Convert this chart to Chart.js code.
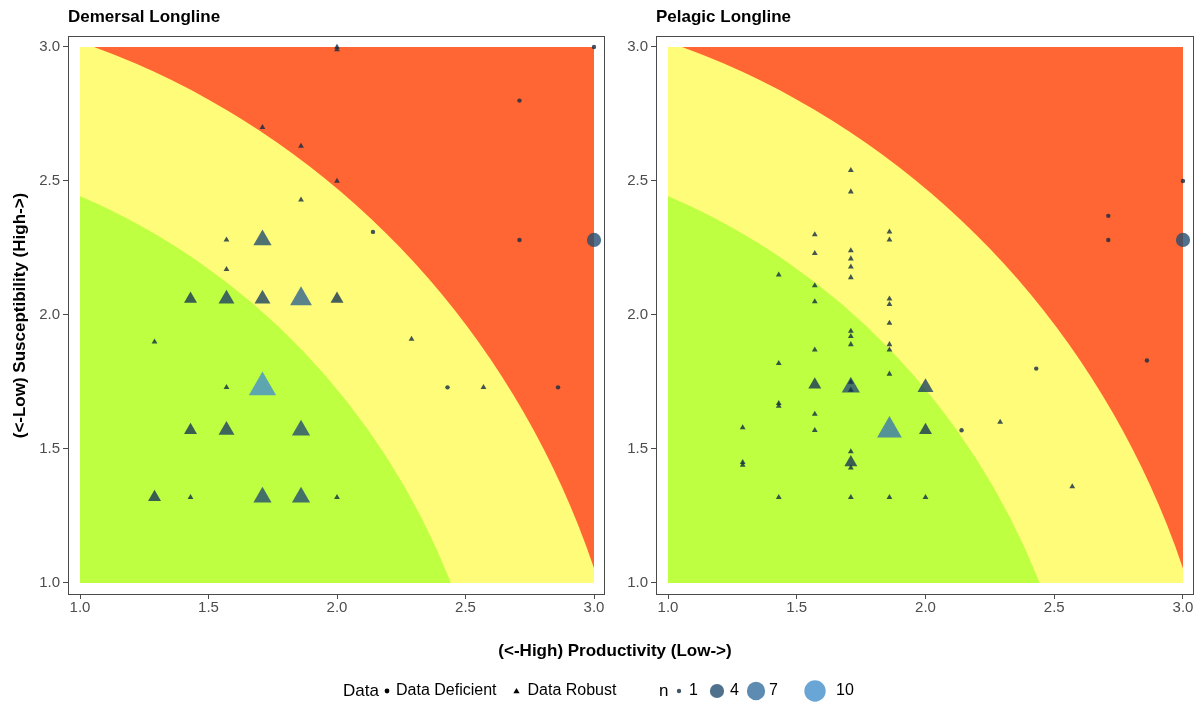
<!DOCTYPE html>
<html>
<head>
<meta charset="utf-8">
<script src="https://cdn.jsdelivr.net/npm/chart.js@4.4.1/dist/chart.umd.min.js"></script>
<style>
  html, body { margin: 0; padding: 0; background: #ffffff; }
  #wrap { position: relative; width: 1202px; height: 706px; }
  #wrap canvas { position: absolute; left: 0; top: 0; }
</style>
</head>
<body>
<div id="wrap">
  <canvas id="demersal" width="1202" height="706"></canvas>
  <canvas id="pelagic" width="1202" height="706"></canvas>
</div>
<script>
// Axis ticks shared by both panels
const tickValues = [1.0, 1.5, 2.0, 2.5, 3.0];

// Vulnerability thresholds: distance from the origin in (P, S) space
const lowMediumBreak = 2.64;
const mediumHighBreak = 3.18;

// Demersal longline: data-robust species
const demersalRobustP = [2.00, 2.00, 1.71, 1.86, 2.00, 1.86, 1.57, 1.71, 1.57, 1.43, 1.57, 1.71, 1.86, 2.00, 1.29, 2.29, 1.57, 1.71, 2.57, 1.43, 1.57, 1.86, 1.29, 1.43, 1.71, 1.86, 2.00];
const demersalRobustS = [3.00, 2.99, 2.70, 2.63, 2.50, 2.43, 2.28, 2.28, 2.17, 2.06, 2.06, 2.06, 2.06, 2.06, 1.90, 1.91, 1.73, 1.73, 1.73, 1.57, 1.57, 1.57, 1.32, 1.32, 1.32, 1.32, 1.32];
const demersalRobustN = [1, 1, 1, 1, 1, 1, 1, 4, 1, 2, 3, 3, 6, 2, 1, 1, 1, 10, 1, 2, 3, 4, 2, 1, 4, 4, 1];

// Demersal longline: data-deficient species
const demersalDeficientP = [3.00, 2.71, 2.14, 2.71, 3.00, 2.43, 2.86];
const demersalDeficientS = [3.00, 2.80, 2.31, 2.28, 2.28, 1.73, 1.73];
const demersalDeficientN = [1, 1, 1, 1, 4, 1, 1];

// Pelagic longline: data-robust species
const pelagicRobustP = [1.71, 1.71, 1.57, 1.86, 1.86, 1.57, 1.71, 1.71, 1.71, 1.71, 1.43, 1.57, 1.57, 1.86, 1.86, 1.86, 1.71, 1.71, 1.71, 1.86, 1.86, 1.57, 1.43, 1.86, 1.57, 1.71, 1.71, 1.71, 2.00, 1.43, 1.43, 1.57, 1.29, 1.57, 1.86, 2.00, 2.29, 1.71, 1.71, 1.71, 1.29, 1.29, 2.57, 1.43, 1.71, 1.86, 2.00];
const pelagicRobustS = [2.54, 2.46, 2.30, 2.31, 2.28, 2.23, 2.24, 2.21, 2.18, 2.14, 2.15, 2.11, 2.05, 2.06, 2.04, 1.97, 1.94, 1.92, 1.89, 1.89, 1.87, 1.87, 1.82, 1.78, 1.74, 1.73, 1.75, 1.72, 1.73, 1.67, 1.66, 1.63, 1.58, 1.57, 1.57, 1.57, 1.60, 1.45, 1.49, 1.43, 1.45, 1.44, 1.36, 1.32, 1.32, 1.32, 1.32];
const pelagicRobustN = [1, 1, 1, 1, 1, 1, 1, 1, 1, 1, 1, 1, 1, 1, 1, 1, 1, 1, 1, 1, 1, 1, 1, 1, 2, 4, 1, 1, 3, 1, 1, 1, 1, 1, 8, 2, 1, 2, 1, 1, 1, 1, 1, 1, 1, 1, 1];

// Pelagic longline: data-deficient species
const pelagicDeficientP = [3.00, 2.71, 2.71, 3.00, 2.86, 2.43, 2.14];
const pelagicDeficientS = [2.50, 2.37, 2.28, 2.28, 1.83, 1.80, 1.57];
const pelagicDeficientN = [1, 1, 1, 4, 1, 1, 1];

// Legend breaks for the count scale
const nBreaks = [1, 4, 7, 10];
const dataLabels = ['Data Deficient', 'Data Robust'];

// ---- styling ----
const FONT = "'Liberation Sans', Arial, Helvetica, sans-serif";
const ZONE_HIGH = '#FF6633';
const ZONE_MEDIUM = '#FFFC7A';
const ZONE_LOW = '#BEFF41';
const LOW_COL = [19, 43, 67];     // #132B43
const HIGH_COL = [86, 177, 247];  // #56B1F7
const POINT_ALPHA = 0.8;
const SIZE_MIN = 1, SIZE_MAX = 10;     // limits of the size scale
const COLOUR_MIN = 1, COLOUR_MAX = 13; // limits of the colour scale

function sizeFor(n) {
  const t = Math.max(0, Math.min(1, (n - SIZE_MIN) / (SIZE_MAX - SIZE_MIN)));
  return 1 + 5 * Math.sqrt(t);
}
function radiusFor(n, style) {
  const s = sizeFor(n);
  if (style === 'triangle') return (4.3 * s + 1.5) / Math.sqrt(3);
  return 1.7 * s + 0.5;
}
function colourFor(n, alpha) {
  const t = Math.max(0, Math.min(1, (n - COLOUR_MIN) / (COLOUR_MAX - COLOUR_MIN)));
  const c = LOW_COL.map((v, i) => Math.round(v + (HIGH_COL[i] - v) * t));
  return `rgba(${c[0]},${c[1]},${c[2]},${alpha})`;
}

function toPoints(P, S, N) {
  return P.map((p, i) => ({ x: p, y: S[i], n: N[i] }));
}

function makeDataset(label, P, S, N, style) {
  return {
    label: label,
    data: toPoints(P, S, N),
    pointStyle: style,
    pointRadius: ctx => radiusFor(ctx.raw ? ctx.raw.n : 1, style),
    pointHoverRadius: ctx => radiusFor(ctx.raw ? ctx.raw.n : 1, style),
    backgroundColor: ctx => colourFor(ctx.raw ? ctx.raw.n : 1, POINT_ALPHA),
    borderWidth: 0,
    showLine: false
  };
}

// Coloured risk zones, built from the panel's own scales
const zonePlugin = {
  id: 'riskZones',
  beforeDatasetsDraw(chart) {
    const { ctx, scales: { x, y } } = chart;
    const x0 = x.getPixelForValue(1), x1 = x.getPixelForValue(3);
    const yb = y.getPixelForValue(1), yt = y.getPixelForValue(3);
    const cx = x.getPixelForValue(0), cy = y.getPixelForValue(0);
    ctx.save();
    ctx.beginPath();
    ctx.rect(x0, yt, x1 - x0, yb - yt);
    ctx.clip();
    ctx.fillStyle = ZONE_HIGH;
    ctx.fillRect(x0, yt, x1 - x0, yb - yt);
    [[mediumHighBreak, ZONE_MEDIUM], [lowMediumBreak, ZONE_LOW]].forEach(([r, col]) => {
      ctx.beginPath();
      ctx.ellipse(cx, cy, x.getPixelForValue(r) - cx, cy - y.getPixelForValue(r), 0, 0, Math.PI * 2);
      ctx.fillStyle = col;
      ctx.fill();
    });
    ctx.restore();
  },
  afterDraw(chart, args, opts) {
    const { ctx, chartArea: a } = chart;
    ctx.save();
    // panel border
    ctx.strokeStyle = '#4a4a4a';
    ctx.lineWidth = 1;
    ctx.strokeRect(Math.round(a.left) + 0.5, Math.round(a.top) + 0.5,
                   Math.round(a.right - a.left) - 1, Math.round(a.bottom - a.top) - 1);
    // panel title
    ctx.fillStyle = '#000';
    ctx.font = `bold 17px ${FONT}`;
    ctx.textBaseline = 'alphabetic';
    ctx.textAlign = 'left';
    ctx.fillText(opts.title, a.left, 22);
    ctx.restore();
  }
};

function drawTriangle(ctx, x, y, r) {
  ctx.beginPath();
  for (let k = 0; k < 3; k++) {
    const ang = k * 2 * Math.PI / 3;
    const px = x + Math.sin(ang) * r, py = y - Math.cos(ang) * r;
    if (k === 0) ctx.moveTo(px, py); else ctx.lineTo(px, py);
  }
  ctx.closePath();
  ctx.fill();
}

// Shared x-axis title and the bottom legend
const sharedPlugin = {
  id: 'sharedText',
  afterDraw(chart) {
    const { ctx } = chart;
    ctx.save();
    ctx.fillStyle = '#000';
    ctx.textBaseline = 'middle';
    ctx.textAlign = 'center';
    ctx.font = `bold 17px ${FONT}`;
    ctx.fillText('(<-High) Productivity (Low->)', 615, 651);

    const ly = 691;
    ctx.textAlign = 'left';
    ctx.font = `17px ${FONT}`;
    ctx.fillText('Data', 343, ly);
    ctx.font = `16px ${FONT}`;
    // shape keys
    ctx.fillStyle = '#000';
    ctx.beginPath(); ctx.arc(387, ly, 2.4, 0, Math.PI * 2); ctx.fill();
    ctx.fillText(dataLabels[0], 396, ly);
    const wDef = ctx.measureText(dataLabels[0]).width;
    drawTriangle(ctx, 396 + wDef + 20, ly + 0.5, 3.6);
    ctx.fillText(dataLabels[1], 396 + wDef + 31, ly);

    // count keys
    ctx.font = `17px ${FONT}`;
    ctx.fillText('n', 659, ly);
    const keyX = [679, 717, 756, 815];
    const labelX = [689, 730, 769, 836];
    ctx.font = `16px ${FONT}`;
    nBreaks.forEach((n, i) => {
      const r = radiusFor(n, 'circle');
      ctx.fillStyle = colourFor(n, POINT_ALPHA);
      ctx.beginPath(); ctx.arc(keyX[i], ly, r, 0, Math.PI * 2); ctx.fill();
      ctx.fillStyle = '#000';
      ctx.fillText(String(n), labelX[i], ly);
    });
    ctx.restore();
  }
};

function makePanel(canvasId, title, robust, deficient, pad, yAxisWidth, yTitle, extraPlugins) {
  const scaleCommon = {
    type: 'linear',
    afterBuildTicks: s => { s.ticks = tickValues.map(v => ({ value: v })); },
    ticks: {
      callback: v => Number(v).toFixed(1),
      color: '#4D4D4D',
      font: { family: FONT, size: 15 },
      autoSkip: false,
      maxRotation: 0
    },
    grid: { drawOnChartArea: false, drawTicks: true, tickLength: 5, color: '#4a4a4a', lineWidth: 1 },
    border: { display: false }
  };
  return new Chart(document.getElementById(canvasId), {
    type: 'scatter',
    data: {
      datasets: [
        makeDataset(dataLabels[0], deficient.P, deficient.S, deficient.N, 'circle'),
        makeDataset(dataLabels[1], robust.P, robust.S, robust.N, 'triangle')
      ]
    },
    options: {
      responsive: false,
      animation: false,
      events: [],
      layout: { padding: pad, autoPadding: false },
      plugins: {
        legend: { display: false },
        tooltip: { enabled: false },
        riskZones: { title: title }
      },
      scales: {
        x: Object.assign({}, scaleCommon, {
          min: 0.9533, max: 3.0428,
          grid: Object.assign({}, scaleCommon.grid, { tickLength: 4 }),
          ticks: Object.assign({}, scaleCommon.ticks, { padding: 0 }),
          afterFit: s => { s.height = 30; s.paddingLeft = 0; s.paddingRight = 0; }
        }),
        y: Object.assign({}, scaleCommon, {
          min: 0.9552, max: 3.041,
          ticks: Object.assign({}, scaleCommon.ticks, { padding: 3 }),
          afterFit: s => { s.width = yAxisWidth; s.paddingTop = 0; s.paddingBottom = 0; },
          title: {
            display: !!yTitle,
            text: yTitle || '',
            color: '#000',
            font: { family: FONT, size: 17, weight: 'bold' },
            padding: { top: 10, bottom: 0 }
          }
        })
      }
    },
    plugins: [zonePlugin].concat(extraPlugins || [])
  });
}

makePanel('demersal', 'Demersal Longline',
  { P: demersalRobustP, S: demersalRobustS, N: demersalRobustN },
  { P: demersalDeficientP, S: demersalDeficientS, N: demersalDeficientN },
  { top: 36, left: 0, right: 597, bottom: 81 }, 68,
  '(<-Low) Susceptibility (High->)', [sharedPlugin]);

makePanel('pelagic', 'Pelagic Longline',
  { P: pelagicRobustP, S: pelagicRobustS, N: pelagicRobustN },
  { P: pelagicDeficientP, S: pelagicDeficientS, N: pelagicDeficientN },
  { top: 36, left: 616, right: 8, bottom: 81 }, 40,
  null, []);
</script>
</body>
</html>
